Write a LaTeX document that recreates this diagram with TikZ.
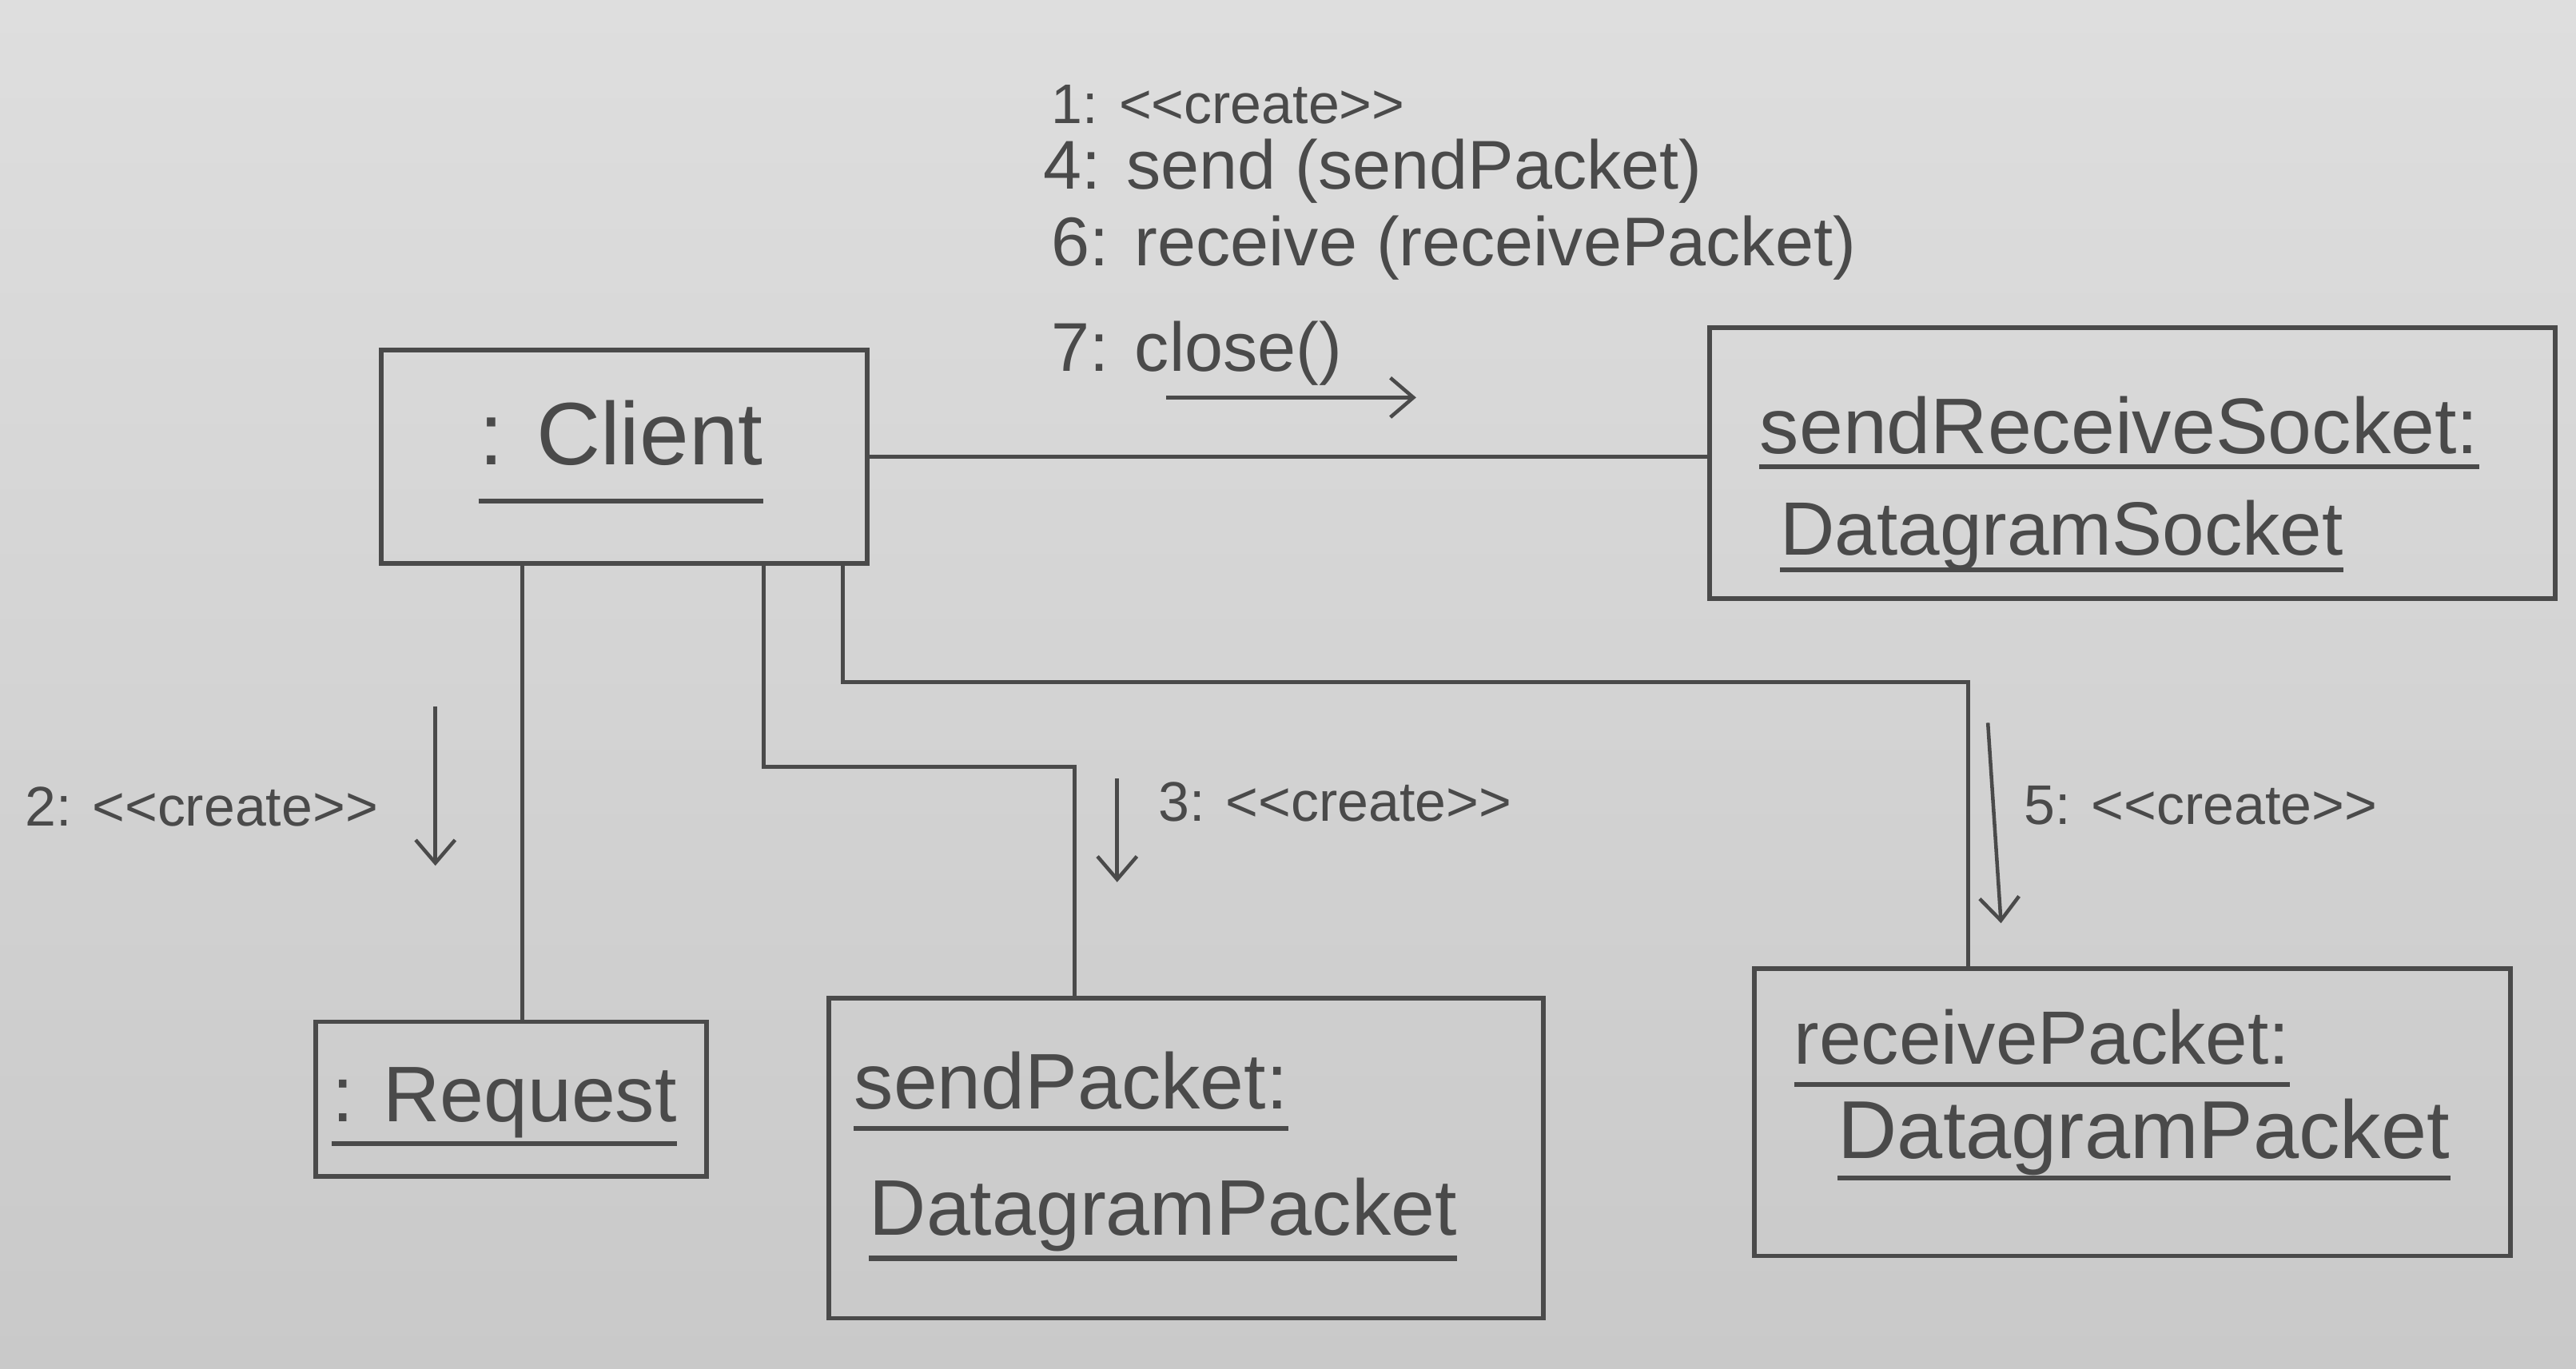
\documentclass[tikz,border=0pt]{standalone}
\usepackage{fontspec}
\setmainfont{Liberation Sans}
\usetikzlibrary{arrows.meta}
\definecolor{pencil}{HTML}{4A4A4A}
\definecolor{paperA}{HTML}{DEDEDE}
\definecolor{paperB}{HTML}{C9C9C9}
\newcommand\stereo[1]{<\kern0pt<#1>\kern0pt>}
\begin{document}
\begin{tikzpicture}[x=1pt,y=-1pt,
  objbox/.style={draw=pencil, line width=2.8pt, inner sep=0pt},
  conn/.style={draw=pencil, line width=2.4pt},
  msg/.style={draw=pencil, line width=2.2pt, -{Straight Barb[length=14pt,width=24pt,line width=2.2pt]}},
  ulline/.style={draw=pencil, line width=3pt},
  ul/.style={append after command={([yshift=-#1]\tikzlastnode.base west) edge[ulline] ([yshift=-#1]\tikzlastnode.base east)}},
  ul/.default=12pt,
  objtxt/.style={text=pencil, inner sep=0pt, anchor=base, font=\fontsize{48}{56}\selectfont},
  labtxt/.style={text=pencil, inner sep=0pt, anchor=base west, font=\fontsize{42}{48}\selectfont},
  crtxt/.style={text=pencil, inner sep=0pt, anchor=base west, font=\fontsize{34}{40}\selectfont}]

\useasboundingbox (0,0) rectangle (1568,833);
\shade[top color=paperA, bottom color=paperB] (0,0) rectangle (1568,833);

% object boxes
\node[objbox, minimum width=296pt, minimum height=130pt] (client) at (380,278) {};
\node[objbox, minimum width=515pt, minimum height=165pt] (socket) at (1298,282) {};
\node[objbox, minimum width=238pt, minimum height=94pt] (request) at (311,669) {};
\node[objbox, minimum width=435pt, minimum height=195pt] (sendpkt) at (722,705) {};
\node[objbox, minimum width=460pt, minimum height=175pt] (recvpkt) at (1298,677) {};

% object names
\node[objtxt, font=\fontsize{54}{60}\selectfont, ul=22pt] (clientTxt) at (378,283) {: Client};
\node[objtxt, ul=8pt] (socketTxtA) at (1290,276) {sendReceiveSocket:};
\node[objtxt, font=\fontsize{46}{52}\selectfont, ul=9pt] (socketTxtB) at (1255,338) {DatagramSocket};
\node[objtxt, ul=13pt] (requestTxt) at (307,683) {: Request};
\node[objtxt, ul=12pt] (sendTxtA) at (652,675) {sendPacket:};
\node[objtxt, ul=14pt] (sendTxtB) at (708,752) {DatagramPacket};
\node[objtxt, font=\fontsize{46}{52}\selectfont, ul=12pt] (recvTxtA) at (1243,648) {receivePacket:};
\node[objtxt, font=\fontsize{50}{56}\selectfont, ul=12pt] (recvTxtB) at (1305,705) {DatagramPacket};

% links
\coordinate (bend1) at (560,467);
\coordinate (bend2) at (850,415);
\draw[conn] (client.east) -- (client.east -| socket.west);
\draw[conn] ([xshift=-62pt]client.south) -- ([xshift=7pt]request.north);
\draw[conn] ([xshift=85pt]client.south) |- (bend1) -| ([xshift=-68pt]sendpkt.north);
\draw[conn] ([xshift=133pt]client.south) |- (bend2) -| ([xshift=-100pt]recvpkt.north);

% messages
\node[crtxt] (m1) at (640,75) {1: \stereo{create}};
\node[labtxt] (m4) at (635,115) {4: send (sendPacket)};
\node[labtxt] (m6) at (640,162) {6: receive (receivePacket)};
\node[labtxt] (m7) at (640,226) {7: close()};
\coordinate (a7s) at (710,242);
\coordinate (a7e) at (862,242);
\draw[msg] (a7s) -- (a7e);

\node[crtxt] (m2) at (15,503) {2: \stereo{create}};
\coordinate (a2s) at (265,430);
\coordinate (a2e) at (265,527);
\draw[msg] (a2s) -- (a2e);

\node[crtxt] (m3) at (705,500) {3: \stereo{create}};
\coordinate (a3s) at (680,474);
\coordinate (a3e) at (680,537);
\draw[msg] (a3s) -- (a3e);

\node[crtxt] (m5) at (1232,502) {5: \stereo{create}};
\coordinate (a5s) at (1210,440);
\coordinate (a5e) at (1218,562);
\draw[msg] (a5s) -- (a5e);
\end{tikzpicture}
\end{document}
